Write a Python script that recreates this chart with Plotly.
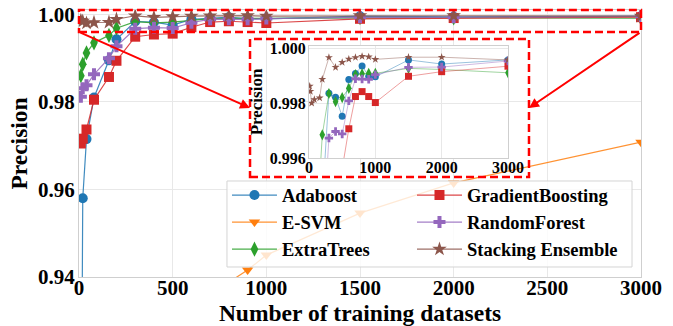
import plotly.graph_objects as go

# ---------------- data ----------------
x = [10, 20, 40, 80, 160, 200, 300, 400, 500, 600, 700, 800, 900, 1000, 1500, 2000, 3000]
adaboost = [0.880, 0.958, 0.9715, 0.9810, 0.9895, 0.9943, 0.99837, 0.99822, 0.99753, 0.99887,
            0.99909, 0.99937, 0.99899, 0.99897, 0.99959, 0.99944, 0.99959]
esvm = [0.620, 0.660, 0.710, 0.760, 0.810, 0.830, 0.860, 0.885, 0.900, 0.915,
        0.928, 0.9388, 0.9416, 0.9450, 0.9546, 0.9615, 0.9708]
extratrees = [0.9860, 0.9886, 0.9912, 0.9935, 0.9952, 0.99685, 0.99836, 0.99806, 0.99821, 0.99855,
              0.99905, 0.99908, 0.99910, 0.99910, 0.99928, 0.99924, 0.99912]
gradboost = [0.9705, 0.9716, 0.9737, 0.9805, 0.9857, 0.9894, 0.9949, 0.9954, 0.9956, 0.99707,
             0.99825, 0.99843, 0.99825, 0.99803, 0.99899, 0.99916, 0.99936]
randforest = [0.9812, 0.9831, 0.9838, 0.9863, 0.9900, 0.9927, 0.99673, 0.99697, 0.99688, 0.99809,
              0.99890, 0.99889, 0.99888, 0.99905, 0.99932, 0.99933, 0.99955]
stacking = [0.99863, 0.99844, 0.99801, 0.99814, 0.99820, 0.99888, 0.99968, 0.99932, 0.99950, 0.99962,
            0.99968, 0.99972, 0.99970, 0.99961, 0.99969, 0.99969, 0.99959]

names = ["Adaboost", "E-SVM", "ExtraTrees", "GradientBoosting", "RandomForest", "Stacking Ensemble"]
series = [adaboost, esvm, extratrees, gradboost, randforest, stacking]
colors = ["#1f77b4", "#ff7f0e", "#2ca02c", "#d62728", "#9467bd", "#8c564b"]
symbols = ["circle", "triangle-down", "diamond-tall", "square", "cross", "star"]
main_sizes = [10, 10, 11, 10, 10, 11]
inset_sizes = [7, 7, 8, 7, 7, 6]
legend_ids = ["legend", "legend", "legend", "legend2", "legend2", "legend2"]

x_ticks = [0, 500, 1000, 1500, 2000, 2500, 3000]
y_ticks = [0.94, 0.96, 0.98, 1.00]
inset_x_ticks = [0, 1000, 2000, 3000]
inset_y_ticks = [0.996, 0.998, 1.000]

# ---------------- layout constants ----------------
W, H = 673, 326
XR = [0, 3000]
YR = [0.94, 1.001]
INSET_YR = [0.996, 1.0001]
ZOOM_Y = [0.996, 1.001]
INSET_DX = [0.4093, 0.7633]
INSET_DY = [0.4457, 0.8652]
BOX = dict(x0=0.3043, x1=0.8007, y0=0.3745, y1=0.8914)
LEG_BOX = dict(x0=0.2633, x1=0.984, y0=0.0375, y1=0.3596)
FONT = "Liberation Serif"


def to_data(px, py):
    return XR[0] + px * (XR[1] - XR[0]), YR[0] + py * (YR[1] - YR[0])


def y_to_paper(v):
    return (v - YR[0]) / (YR[1] - YR[0])


def rgba(hexc, a):
    h = hexc.lstrip("#")
    return "rgba(%d,%d,%d,%.2f)" % (int(h[0:2], 16), int(h[2:4], 16), int(h[4:6], 16), a)


fig = go.Figure()

for i, (n, s) in enumerate(zip(names, series)):
    fig.add_trace(go.Scatter(
        x=x, y=s, name=n, mode="lines+markers",
        line=dict(color=rgba(colors[i], 0.85), width=1.2),
        marker=dict(symbol=symbols[i], size=main_sizes[i], color=colors[i],
                    line=dict(width=0)),
        legend=legend_ids[i], xaxis="x", yaxis="y",
    ))

for i, (n, s) in enumerate(zip(names, series)):
    fig.add_trace(go.Scatter(
        x=x, y=s, name=n, mode="lines+markers", showlegend=False,
        line=dict(color=rgba(colors[i], 0.45), width=1),
        marker=dict(symbol=symbols[i], size=inset_sizes[i], color=colors[i],
                    line=dict(width=0)),
        xaxis="x2", yaxis="y2",
    ))

tick_font = dict(family=FONT, size=21, color="black", weight="bold")
inset_font = dict(family=FONT, size=16, color="black", weight="bold")
grid = "#e8e8e8"
spine = "#cfcfcf"

# shapes
shapes = [
    dict(type="rect", xref="paper", yref="paper", x0=0, x1=1,
         y0=y_to_paper(ZOOM_Y[0]), y1=y_to_paper(ZOOM_Y[1]),
         line=dict(color="red", width=2.5, dash="8px,4px"), layer="above"),
    dict(type="rect", xref="paper", yref="paper", **BOX,
         line=dict(color="red", width=2.5, dash="8px,4px"), layer="above"),
    dict(type="rect", xref="paper", yref="paper", **LEG_BOX,
         fillcolor="rgba(255,255,255,0.8)", line=dict(color="#d4d4d4", width=1),
         layer="above"),
]

mid = (BOX["y0"] + BOX["y1"]) / 2
annotations = []
for tail_x, head_px in [(XR[0], BOX["x0"]), (XR[1], BOX["x1"])]:
    hx, hy = to_data(head_px, mid)
    annotations.append(dict(
        x=hx, y=hy, xref="x", yref="y", ax=tail_x, ay=ZOOM_Y[0], axref="x", ayref="y",
        text="", showarrow=True, arrowhead=2, arrowsize=1, arrowwidth=2,
        arrowcolor="red", standoff=0, startstandoff=0,
    ))

leg_font = dict(family=FONT, size=18.5, color="black", weight="bold")

fig.update_layout(
    width=W, height=H,
    margin=dict(l=79, r=32, t=10, b=49),
    paper_bgcolor="white", plot_bgcolor="white",
    xaxis=dict(range=XR, tickvals=x_ticks, tickfont=tick_font, showgrid=True, gridcolor=grid,
               showline=True, linecolor=spine, mirror=True, zeroline=False, ticks="", ticklen=0,
               ticklabelstandoff=-8, automargin=False,
               title=dict(text="Number of training datasets",
                          font=dict(family=FONT, size=23.5, color="black", weight="bold"),
                          standoff=2)),
    yaxis=dict(range=YR, tickvals=y_ticks, tickformat=".2f", tickfont=tick_font, showgrid=True,
               gridcolor=grid, showline=True, linecolor=spine, mirror=True, zeroline=False, ticks="",
               ticklen=0, ticklabelstandoff=-1, automargin=False,
               title=dict(text="Precision",
                          font=dict(family=FONT, size=23.5, color="black", weight="bold"),
                          standoff=3)),
    xaxis2=dict(domain=INSET_DX, anchor="y2", range=XR, tickvals=inset_x_ticks, tickfont=inset_font,
                showgrid=True, gridcolor=grid, showline=True, linecolor=spine, mirror=True,
                zeroline=False, ticks="", ticklen=0, ticklabelstandoff=-5, automargin=False),
    yaxis2=dict(domain=INSET_DY, anchor="x2", range=INSET_YR, tickvals=inset_y_ticks, tickformat=".3f",
                tickfont=inset_font, showgrid=True, gridcolor=grid, showline=True, linecolor=spine,
                mirror=True, zeroline=False, ticks="", ticklen=0, ticklabelstandoff=-1,
                automargin=False,
                title=dict(text="Precision", font=dict(family=FONT, size=17, color="black", weight="bold"),
                           standoff=2)),
    shapes=shapes,
    annotations=annotations,
    legend=dict(x=LEG_BOX["x0"], y=0.3764, xanchor="left", yanchor="top", bgcolor="rgba(0,0,0,0)",
                font=leg_font, itemwidth=45, borderwidth=0),
    legend2=dict(x=0.5925, y=0.3764, xanchor="left", yanchor="top", bgcolor="rgba(0,0,0,0)",
                 font=leg_font, itemwidth=45, borderwidth=0),
    showlegend=True,
)

fig.write_html("out.html")
